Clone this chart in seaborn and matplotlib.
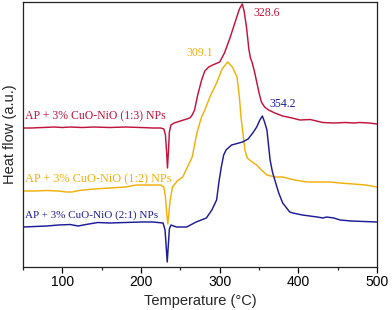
import numpy as np
import pandas as pd
import matplotlib
matplotlib.use("Agg")
import matplotlib.pyplot as plt
import seaborn as sns

sns.set_theme(style="ticks")
plt.rcParams['font.family'] = ['Liberation Sans', 'DejaVu Sans']

# DSC traces (temperature in degC, heat flow in arbitrary units)
temp_13 = [49.5, 60, 75, 90, 100, 110, 125, 140, 160, 180, 200, 215, 225, 229, 231, 232.5, 233.6, 234.8,
           236, 238, 242, 250, 258, 262, 265, 268, 272, 277, 281, 286, 291, 300, 306, 313, 320, 325, 328.6,
           331, 334, 337, 339, 341, 344, 347, 350, 353, 357, 362, 370, 380, 392, 402, 415, 423, 431, 445,
           460, 470, 478, 490, 500]
flow_13 = [139, 139, 139.5, 140, 139.5, 140, 139.5, 140, 139.5, 140, 139.5, 139, 139, 138, 132, 115, 99, 115,
           135, 142, 144, 146, 148, 149, 152, 157, 172, 187, 196, 200, 202, 205, 214, 229, 246, 258, 263,
           256, 240, 218, 209, 205, 196, 185, 174, 165, 160, 157, 154, 151, 149, 147, 147.5, 146, 144.5, 144,
           144.5, 144, 144.5, 144, 143]

temp_12 = [49.5, 65, 80, 95, 105, 112, 121, 140, 160, 180, 194, 210, 225, 229, 231, 232.5, 234, 235.5,
           237, 240, 246, 253, 259, 265, 268, 271, 276, 281, 288, 296, 303, 310, 316, 322, 325, 327, 329,
           332, 335, 338, 343, 347, 353, 360, 370, 380, 395, 411, 430, 440, 453, 470, 485, 500]
flow_12 = [76, 76, 76.5, 76, 75, 75, 76.5, 78, 79, 80, 82, 82, 82, 80, 70, 55, 43, 55,
           67, 80, 86, 90, 100, 110, 122, 134, 148, 157, 171, 184, 198, 205, 200, 190, 170, 150, 137,
           117, 109, 107, 104, 102, 97, 92, 90, 90, 87, 85, 85, 85, 84, 83, 82, 80]

temp_21 = [49.5, 65, 80, 95, 110, 120, 130, 145, 160, 180, 200, 215, 228, 230.5, 232, 233.3, 234.5, 236,
           238, 245, 258, 270, 283, 290, 296, 299, 302, 305, 308, 315, 329, 336, 342, 347, 351, 354.2,
           357, 360, 364, 367, 370, 375, 380, 389, 393, 405, 424, 431, 436, 445, 453, 467, 500]
flow_21 = [40, 40.5, 41, 42, 42.5, 41, 42.5, 44.5, 44, 44.5, 45, 45, 44, 37, 20, 5, 20, 38,
           42, 40, 40, 45, 49, 57, 67, 85, 100, 112, 117, 122, 125, 128, 134, 140, 147, 151,
           145, 137, 107, 95, 87, 74, 64, 55, 54, 52, 50, 49, 50, 49, 47, 46, 45]

labels = ["AP + 3% CuO-NiO (1:3) NPs", "AP + 3% CuO-NiO (1:2) NPs", "AP + 3% CuO-NiO (2:1) NPs"]
colors = ["#c0143c", "#f2b00c", "#1c1c96"]
peaks = ["328.6", "309.1", "354.2"]

df = pd.concat([
    pd.DataFrame({"T": temp_13, "flow": flow_13, "sample": labels[0]}),
    pd.DataFrame({"T": temp_12, "flow": flow_12, "sample": labels[1]}),
    pd.DataFrame({"T": temp_21, "flow": flow_21, "sample": labels[2]}),
])

fig = plt.figure(figsize=(3.92, 3.10), dpi=100)
ax = fig.add_axes([0.0587, 0.1387, 0.9033, 0.8548])

sns.lineplot(data=df, x="T", y="flow", hue="sample", palette=colors, hue_order=labels,
             sort=False, estimator=None, linewidth=1.05, legend=False, ax=ax,
             solid_joinstyle="round", solid_capstyle="round")

ax.set_xlim(50, 500)
ax.set_ylim(0, 265)
ax.set_xticks([100, 200, 300, 400, 500])
ax.set_xticks([50, 150, 250, 350, 450], minor=True)
ax.set_yticks([])
ax.tick_params(axis="x", which="major", length=4, width=0.9, labelsize=10, pad=2, colors="black")
ax.tick_params(axis="x", which="minor", length=2.5, width=0.9)
for s in ax.spines.values():
    s.set_linewidth(0.9)
    s.set_color("#222222")

ax.set_xlabel("Temperature (°C)", fontsize=10.5, labelpad=3)
ax.set_ylabel("Heat flow (a.u.)", fontsize=10.5, labelpad=4)

serif = ['Liberation Serif', 'DejaVu Serif']
ax.text(52.5, 151, labels[0], color=colors[0], family=serif, fontsize=8.5, ha="left", va="center")
ax.text(52.5, 88, labels[1], color=colors[1], family=serif, fontsize=8.8, ha="left", va="center")
ax.text(52.5, 52, labels[2], color=colors[2], family=serif, fontsize=8.0, ha="left", va="center")

ax.text(360, 254, peaks[0], color=colors[0], family=serif, fontsize=8.6, ha="center", va="center")
ax.text(274, 214, peaks[1], color=colors[1], family=serif, fontsize=8.6, ha="center", va="center")
ax.text(380, 163, peaks[2], color=colors[2], family=serif, fontsize=8.6, ha="center", va="center")

fig.savefig("out.png", dpi=100)
